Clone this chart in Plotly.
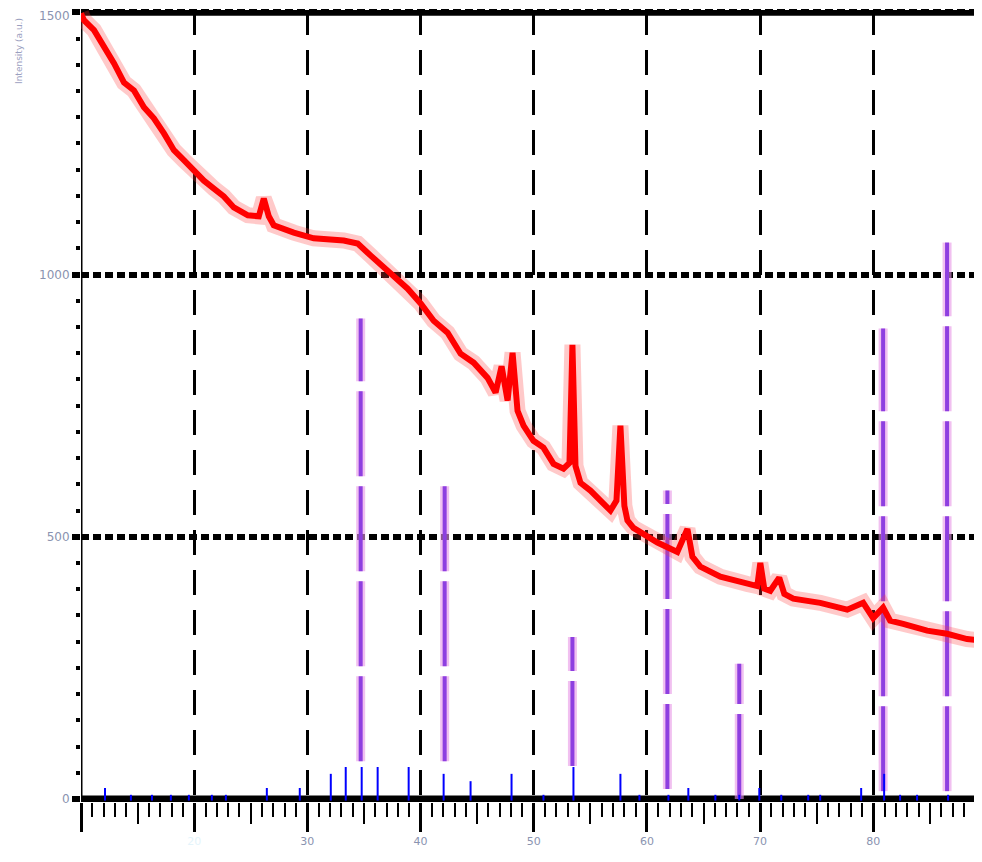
import plotly.graph_objects as go

# ---- measured pattern (2theta in degrees, intensity in counts) ----
two_theta = [10.00, 10.26, 11.15, 12.03, 12.91, 13.80, 14.68, 15.56, 16.44, 17.33,
             18.21, 19.09, 19.97, 20.86, 21.74, 22.62, 23.50, 24.74, 25.71, 26.15,
             26.59, 27.03, 28.80, 30.56, 33.21, 34.45, 35.60, 37.36, 38.86, 40.01,
             41.16, 42.39, 43.54, 44.69, 45.92, 46.63, 47.16, 47.69, 48.13, 48.57,
             49.10, 49.98, 50.86, 51.75, 52.63, 53.16, 53.42, 53.69, 54.13, 55.01,
             55.90, 56.78, 57.31, 57.66, 58.01, 58.28, 58.81, 60.04, 60.93, 62.69,
             63.58, 64.02, 64.72, 66.49, 68.87, 69.75, 70.02, 70.37, 70.90, 71.69,
             72.14, 72.93, 75.31, 77.70, 79.11, 79.99, 80.87, 81.49, 82.64, 84.76,
             86.52, 88.29, 89.61]
intensity = [1498, 1485, 1466, 1437, 1403, 1366, 1351, 1319, 1298, 1269,
             1237, 1218, 1198, 1179, 1164, 1149, 1128, 1113, 1111, 1145,
             1111, 1094, 1080, 1069, 1065, 1059, 1036, 1002, 973, 945,
             912, 889, 849, 832, 803, 775, 825, 760, 851, 740,
             712, 683, 670, 639, 630, 641, 866, 635, 603, 588,
             569, 550, 569, 712, 559, 531, 517, 502, 489, 471,
             515, 462, 443, 424, 410, 406, 450, 401, 397, 422,
             391, 382, 374, 361, 374, 345, 365, 340, 334, 321,
             315, 305, 302]

# ---- reference card sticks (blue) ----
stick_pos = [12.12, 14.41, 16.27, 17.94, 19.53, 21.56, 22.80, 26.42, 29.33, 32.07,
             33.39, 34.80, 36.21, 38.95, 42.04, 44.42, 48.04, 50.86, 53.51, 57.66,
             59.34, 61.90, 63.66, 66.05, 68.16, 69.93, 71.87, 74.25, 75.31, 78.93,
             80.96, 82.37, 83.87, 86.61]
stick_int = [21, 8, 8, 8, 8, 8, 8, 21, 21, 48,
             61, 61, 61, 61, 48, 34, 48, 8, 61, 48,
             8, 8, 21, 8, 8, 21, 8, 8, 8, 21,
             48, 8, 8, 8]

# ---- marker lines (purple dashed) ----
mark_pos = [34.71, 42.13, 53.42, 61.81, 68.16, 80.87, 86.52]
mark_top = [916, 614, 309, 588, 258, 897, 1061]
mark_bottom = [72, 72, 63, 19, 0, 15, 15]

# ---- axis ticks ----
x_major = [10, 20, 30, 40, 50, 60, 70, 80, 90]
x_labels = ["", "<span style='color:#e4f4fb'>20</span>", "30", "40", "50", "60", "70", "80", ""]
x_mid = [15, 25, 35, 45, 55, 65, 75, 85]
y_major = [0, 500, 1000, 1500]
y_labels = ["0", "500", "1000", "1500"]

X_RANGE = [10, 88.9]
Y_RANGE = [-5.7, 1504.4]

fig = go.Figure()

# purple marker lines
mx, my = [], []
for p, t, b in zip(mark_pos, mark_top, mark_bottom):
    mx += [p, p, None]
    my += [b, t, None]
fig.add_trace(go.Scatter(x=mx, y=my, mode="lines", hoverinfo="skip",
                         line=dict(color="rgba(232,150,230,0.6)", width=9, dash="85px,10px")))
fig.add_trace(go.Scatter(x=mx, y=my, mode="lines", hoverinfo="skip",
                         line=dict(color="#8e3fe0", width=4, dash="85px,10px")))

# blue sticks
sx, sy = [], []
for p, h in zip(stick_pos, stick_int):
    sx += [p, p, None]
    sy += [-3, h, None]
fig.add_trace(go.Scatter(x=sx, y=sy, mode="lines", hoverinfo="skip",
                         line=dict(color="#0000ff", width=2)))

# measured pattern: halo + core
fig.add_trace(go.Scatter(x=two_theta, y=intensity, mode="lines", hoverinfo="skip",
                         line=dict(color="rgba(255,60,60,0.28)", width=16)))
fig.add_trace(go.Scatter(x=two_theta, y=intensity, mode="lines",
                         line=dict(color="#ff0000", width=6)))

# helper trace for the mid-tick overlay axis
fig.add_trace(go.Scatter(x=[X_RANGE[0]], y=[0], xaxis="x2", mode="markers",
                         marker=dict(opacity=0), hoverinfo="skip"))

shapes = [
    dict(type="line", xref="x", yref="y", x0=X_RANGE[0] - 0.55, x1=X_RANGE[1], y0=0, y1=0,
         line=dict(color="black", width=7), layer="between"),
    dict(type="line", xref="x", yref="y", x0=X_RANGE[0] - 0.55, x1=X_RANGE[1], y0=1500, y1=1500,
         line=dict(color="black", width=7), layer="between"),
    dict(type="line", xref="x", yref="y", x0=X_RANGE[0], x1=X_RANGE[0], y0=Y_RANGE[0], y1=1500,
         line=dict(color="black", width=3), layer="between"),
]

# top tick label is drawn as an annotation (it would be clipped at the page edge)
y_tick_text = y_labels[:-1] + [""]
annotations = [
    dict(text="Intensity (a.u.)", textangle=-90, xref="paper", yref="paper",
         x=0, y=1, xanchor="center", yanchor="top", xshift=-62, yshift=-6,
         showarrow=False, font=dict(size=9, color="#9aa0c0")),
    dict(text=y_labels[-1], xref="paper", yref="y", x=0, y=y_major[-1],
         xanchor="right", yanchor="middle", xshift=-9, yshift=-4,
         showarrow=False, font=dict(size=12, color="#8a93b0")),
]

fig.update_layout(
    width=966, height=846, autosize=False,
    margin=dict(l=73, r=0, t=2, b=52),
    paper_bgcolor="white", plot_bgcolor="white",
    showlegend=False,
    font=dict(family="DejaVu Sans", size=11, color="#8a93b0"),
    shapes=shapes,
    annotations=annotations,
    xaxis=dict(
        range=X_RANGE, tickmode="array", tickvals=x_major, ticktext=x_labels,
        ticks="outside", ticklen=29, tickwidth=3, tickcolor="black",
        showgrid=True, gridcolor="black", gridwidth=3, griddash="25px,15px",
        showline=False, zeroline=False,
        minor=dict(dtick=1, tick0=10, ticks="outside", ticklen=14, tickwidth=2,
                   tickcolor="black", showgrid=False),
        tickfont=dict(size=11, color="#8a93b0"),
    ),
    xaxis2=dict(
        range=X_RANGE, overlaying="x", anchor="y", side="bottom",
        tickmode="array", tickvals=x_mid, ticks="outside", ticklen=21, tickwidth=2,
        tickcolor="black", showticklabels=False, showgrid=False, showline=False,
        zeroline=False,
    ),
    yaxis=dict(
        range=Y_RANGE, tickmode="array", tickvals=y_major, ticktext=y_tick_text,
        ticks="outside", ticklen=8, tickwidth=6, tickcolor="black",
        showgrid=True, gridcolor="black", gridwidth=6, griddash="8px,4px",
        showline=False, zeroline=False,
        minor=dict(dtick=50, tick0=0, ticks="outside", ticklen=4, tickwidth=4,
                   tickcolor="black", showgrid=False),
        tickfont=dict(size=12, color="#8a93b0"),
    ),
)

fig.write_html("out.html")
